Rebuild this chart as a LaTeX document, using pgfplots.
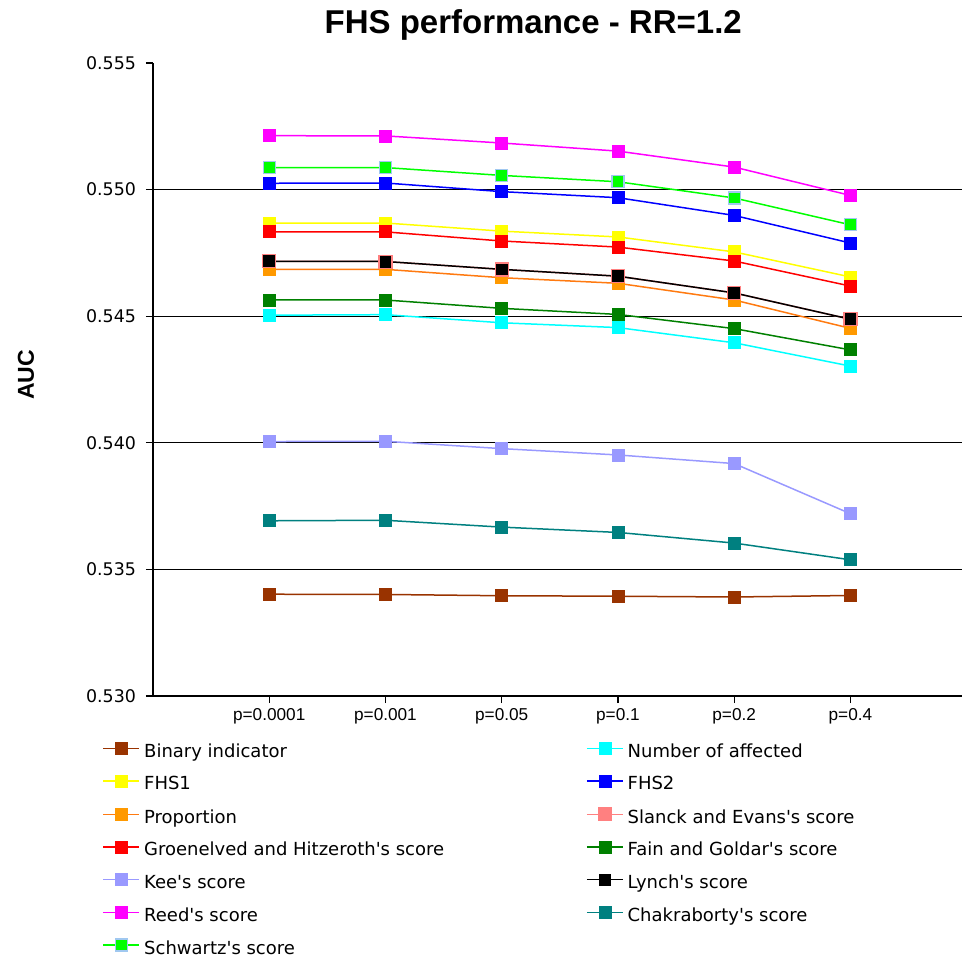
\documentclass[border=0pt]{standalone}
\usepackage{fontspec}
\setmainfont{DejaVu Sans}
\newfontfamily\arialfont{Liberation Sans}
\usepackage{pgfplots}
\pgfplotsset{compat=1.18}

% series colours
\definecolor{cBinary}{HTML}{993300}
\definecolor{cNumber}{HTML}{00FFFF}
\definecolor{cFHSone}{HTML}{FFFF00}
\definecolor{cFHStwo}{HTML}{0000FF}
\definecolor{cPropLine}{HTML}{FF7A10}
\definecolor{cProp}{HTML}{FF9900}
\definecolor{cSlanck}{HTML}{FF8080}
\definecolor{cGroen}{HTML}{FF0000}
\definecolor{cFain}{HTML}{008000}
\definecolor{cKee}{HTML}{9999FF}
\definecolor{cLynch}{HTML}{000000}
\definecolor{cReed}{HTML}{FF00FF}
\definecolor{cChak}{HTML}{008080}
\definecolor{cSchw}{HTML}{00FF00}
\definecolor{cSchwEdge}{HTML}{A0C8F0}

\newcommand{\q}{\textquotesingle}

\pgfplotsset{
  series/.style={color=#1, line width=0.75bp, mark=square*, mark size=3bp,
    mark options={solid, line width=0.4bp, fill=#1, draw=#1}},
}

\begin{document}
\begin{tikzpicture}
\begin{axis}[
  scale only axis,
  width=404.5bp, height=316.5bp,
  xmin=0, xmax=6.96,
  ymin=0.530, ymax=0.555,
  axis x line*=bottom, axis y line*=left,
  axis line style={line width=0.8bp, -},
  xtick={1,2,3,4,5,6},
  xticklabels={p=0.0001,p=0.001,p=0.05,p=0.1,p=0.2,p=0.4},
  ytick={0.530,0.555},
  extra y ticks={0.535,0.540,0.545,0.550},
  extra y tick style={ymajorgrids=true},
  major grid style={black, line width=0.6bp},
  tick align=outside,
  major tick length=3.5bp,
  tick style={black, line width=0.6bp},
  scaled y ticks=false,
  /pgf/number format/fixed,
  /pgf/number format/fixed zerofill,
  /pgf/number format/precision=3,
  /pgf/number format/assume math mode=true,
  yticklabel style={font=\fontsize{8.7bp}{10bp}\selectfont, xshift=-1.5bp},
  xticklabel style={font=\arialfont\fontsize{8.6bp}{10bp}\selectfont, yshift=1bp},
  title={FHS performance - RR=1.2},
  title style={font=\arialfont\bfseries\fontsize{16.5bp}{18bp}\selectfont,
    at={(axis description cs:0.470,1.0285)}, anchor=base},
  ylabel={AUC},
  ylabel style={font=\arialfont\bfseries\fontsize{11.5bp}{13bp}\selectfont,
    at={(axis description cs:-0.157,0.507)}, anchor=center},
  legend columns=2,
  legend cell align=left,
  legend image code/.code={
    \draw[mark repeat=2, mark phase=2, #1]
      plot coordinates {(0bp,2.1bp) (9bp,2.1bp) (18bp,2.1bp)};},
  legend style={draw=none, fill=none,
    at={(axis description cs:-0.0622,-0.0731)}, anchor=north west,
    column sep=2bp, row sep=6.95bp, inner sep=0pt, outer sep=0pt,
    nodes={inner sep=0pt, text height=6.7bp, text depth=1.9bp,
      font=\fontsize{9bp}{10bp}\selectfont}},
]

\addplot[series=cBinary] coordinates {
  (1,0.53402) (2,0.53401) (3,0.53396) (4,0.53394) (5,0.53391) (6,0.53397)};
\addlegendentry{\makebox[219bp][l]{Binary indicator}}

\addplot[series=cNumber] coordinates {
  (1,0.54504) (2,0.54506) (3,0.54474) (4,0.54455) (5,0.54395) (6,0.54303)};
\addlegendentry{Number of affected}

\addplot[series=cFHSone] coordinates {
  (1,0.54868) (2,0.54868) (3,0.54836) (4,0.54813) (5,0.54754) (6,0.54655)};
\addlegendentry{\makebox[219bp][l]{FHS1}}

\addplot[series=cFHStwo] coordinates {
  (1,0.55025) (2,0.55026) (3,0.54992) (4,0.54968) (5,0.54898) (6,0.54789)};
\addlegendentry{FHS2}

\addplot[series=cProp, color=cPropLine] coordinates {
  (1,0.54685) (2,0.54685) (3,0.54652) (4,0.54630) (5,0.54564) (6,0.54452)};
\addlegendentry{\makebox[219bp][l]{Proportion}}

\addplot[series=cSlanck, mark size=3.3bp] coordinates {
  (1,0.54717) (2,0.54716) (3,0.54685) (4,0.54658) (5,0.54592) (6,0.54488)};
\addlegendentry{Slanck and Evans\q s score}

\addplot[series=cGroen] coordinates {
  (1,0.54833) (2,0.54833) (3,0.54797) (4,0.54773) (5,0.54718) (6,0.54619)};
\addlegendentry{\makebox[219bp][l]{Groenelved and Hitzeroth\q s score}}

\addplot[series=cFain] coordinates {
  (1,0.54564) (2,0.54564) (3,0.54531) (4,0.54507) (5,0.54451) (6,0.54367)};
\addlegendentry{Fain and Goldar\q s score}

\addplot[series=cKee] coordinates {
  (1,0.54005) (2,0.54006) (3,0.53977) (4,0.53952) (5,0.53918) (6,0.53720)};
\addlegendentry{\makebox[219bp][l]{Kee\q s score}}

\addplot[series=cLynch, mark size=2.7bp] coordinates {
  (1,0.54717) (2,0.54716) (3,0.54685) (4,0.54658) (5,0.54592) (6,0.54488)};
\addlegendentry{Lynch\q s score}

\addplot[series=cReed] coordinates {
  (1,0.55213) (2,0.55212) (3,0.55184) (4,0.55152) (5,0.55089) (6,0.54977)};
\addlegendentry{\makebox[219bp][l]{Reed\q s score}}

\addplot[series=cChak] coordinates {
  (1,0.53692) (2,0.53694) (3,0.53667) (4,0.53646) (5,0.53604) (6,0.53538)};
\addlegendentry{Chakraborty\q s score}

\addplot[series=cSchw, mark options={draw=cSchwEdge, line width=0.6bp}] coordinates {
  (1,0.55087) (2,0.55087) (3,0.55056) (4,0.55031) (5,0.54967) (6,0.54861)};
\addlegendentry{\makebox[219bp][l]{Schwartz\q s score}}

\end{axis}
\pgfresetboundingbox
\useasboundingbox (-76.5bp,-131bp) rectangle (404.5bp,348bp);
\end{tikzpicture}
\end{document}
